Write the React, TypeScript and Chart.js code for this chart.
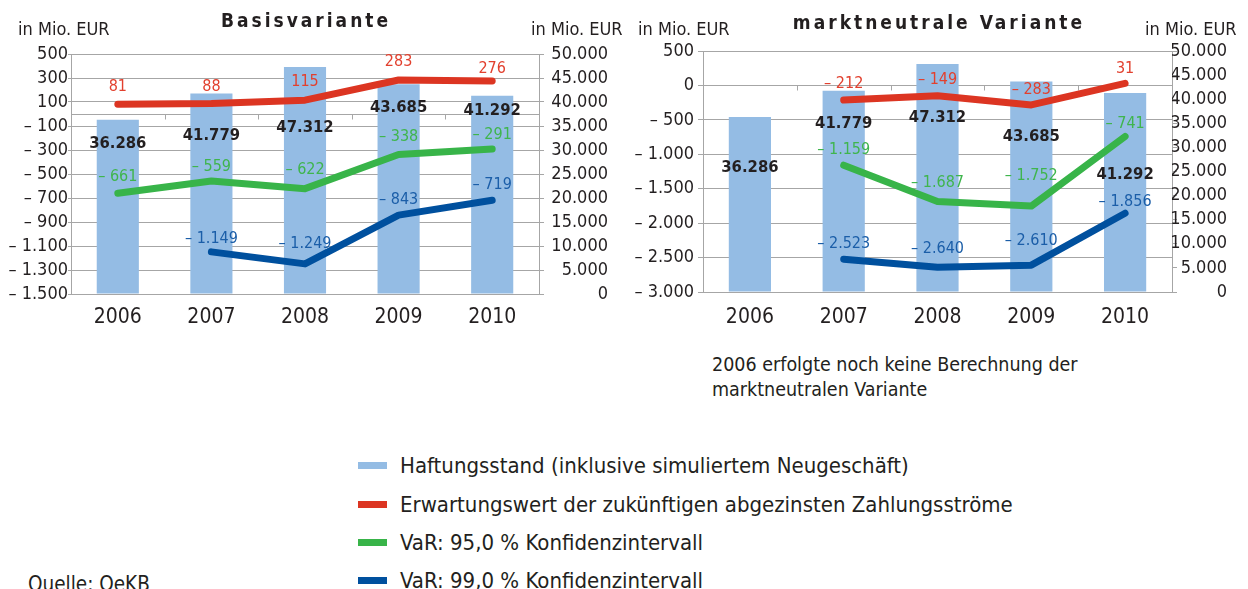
import React, { useEffect, useRef } from "react";
import { Chart, registerables } from "chart.js";

Chart.register(...registerables);

// ---------- data ----------
const years = ["2006", "2007", "2008", "2009", "2010"];
const haftungsstand = [36286, 41779, 47312, 43685, 41292];

const basisErwartung: (number | null)[] = [81, 88, 115, 283, 276];
const basisVaR95: (number | null)[] = [-661, -559, -622, -338, -291];
const basisVaR99: (number | null)[] = [null, -1149, -1249, -843, -719];

const neutralErwartung: (number | null)[] = [null, -212, -149, -283, 31];
const neutralVaR95: (number | null)[] = [null, -1159, -1687, -1752, -741];
const neutralVaR99: (number | null)[] = [null, -2523, -2640, -2610, -1856];

const basisLeftRange = { min: -1500, max: 500, step: 200 };
const neutralLeftRange = { min: -3000, max: 500, step: 500 };
const rightRange = { min: 0, max: 50000, step: 5000 };

const legendLabels = [
  "Haftungsstand (inklusive simuliertem Neugeschäft)",
  "Erwartungswert der zukünftigen abgezinsten Zahlungsströme",
  "VaR: 95,0 % Konfidenzintervall",
  "VaR: 99,0 % Konfidenzintervall",
];

// ---------- styles ----------
const FONT = '"DejaVu Sans Condensed", "DejaVu Sans", sans-serif';
const GRID = "#a6a6a6";
const TEXT = "#231f20";
const BAR = "#94bce4";
const RED = "#dc3522";
const GREEN = "#38b449";
const BLUE = "#00509e";
const RED_T = "#e2402e";
const GREEN_T = "#3fb54d";
const BLUE_T = "#1b5ea8";
const seriesColors = [BAR, RED, GREEN, BLUE];

// label lift above points (px), per series
const basisLift = [
  [17, 17, 18, 18, 12],
  [16, 14, 19, 18, 14],
  [0, 13, 20, 15, 15],
];
const neutralLift = [
  [0, 16, 16, 15, 14],
  [0, 15, 19, 30, 13],
  [0, 15, 18, 24, 11],
];
// bar value label drop below bar top (px)
const basisBarDrop = [24, 42, 61, 23, 15];
const neutralBarDrop = [51, 33, 54, 55, 82];

function fmt(v: number): string {
  const s = Math.round(Math.abs(v))
    .toString()
    .replace(/\B(?=(\d{3})+(?!\d))/g, ".");
  return (v < 0 ? "– " : "") + s;
}

type PanelProps = {
  x: number;
  width: number;
  height: number;
  plotLeft: number;
  plotRight: number;
  plotTop: number;
  plotBottom: number;
  rightLabelEdge: number;
  leftRange: { min: number; max: number; step: number };
  lines: (number | null)[][];
  lifts: number[][];
  barDrop: number[];
  leftTickPad: number;
  leftTickLen: number;
  rightTickLen: number;
  xPad: number;
};

function Panel(p: PanelProps) {
  const ref = useRef<HTMLCanvasElement | null>(null);
  useEffect(() => {
    if (!ref.current) return;
    const lineColors = [RED, GREEN, BLUE];
    const labelColors = [RED_T, GREEN_T, BLUE_T];

    const zeroLine = {
      id: "zeroLine",
      beforeDatasetsDraw(chart: any) {
        const { ctx, chartArea } = chart;
        const y0 = Math.round(chart.scales.y.getPixelForValue(0)) + 0.5;
        ctx.save();
        ctx.strokeStyle = GRID;
        ctx.lineWidth = 1;
        ctx.beginPath();
        ctx.moveTo(chartArea.left, y0);
        ctx.lineTo(chartArea.right, y0);
        const w = (chartArea.right - chartArea.left) / years.length;
        for (let k = 1; k < years.length; k++) {
          const xx = Math.round(chartArea.left + k * w) + 0.5;
          ctx.moveTo(xx, y0);
          ctx.lineTo(xx, y0 + 5);
        }
        ctx.stroke();
        ctx.restore();
      },
    };

    const labels = {
      id: "valueLabels",
      afterDatasetsDraw(chart: any) {
        const ctx = chart.ctx;
        ctx.save();
        ctx.textAlign = "center";
        ctx.textBaseline = "middle";
        const barMeta = chart.getDatasetMeta(0);
        ctx.font = `bold 16.5px ${FONT}`;
        ctx.fillStyle = TEXT;
        barMeta.data.forEach((el: any, i: number) => {
          ctx.fillText(fmt(haftungsstand[i]), el.x, el.y + p.barDrop[i]);
        });
        ctx.font = `16px ${FONT}`;
        for (let s = 0; s < 3; s++) {
          const meta = chart.getDatasetMeta(s + 1);
          ctx.fillStyle = labelColors[s];
          meta.data.forEach((el: any, i: number) => {
            const v = p.lines[s][i];
            if (v === null || v === undefined) return;
            ctx.fillText(fmt(v), el.x, el.y - p.lifts[s][i]);
          });
        }
        ctx.restore();
      },
    };

    const padRight = p.width - p.rightLabelEdge;
    const chart = new Chart(ref.current, {
      type: "bar",
      data: {
        labels: years,
        datasets: [
          {
            type: "bar",
            data: haftungsstand,
            backgroundColor: BAR,
            yAxisID: "y2",
            order: 10,
            categoryPercentage: 1,
            barPercentage: 0.45,
          } as any,
          ...p.lines.map((d, s) => ({
            type: "line",
            data: d,
            yAxisID: "y",
            borderColor: lineColors[s],
            borderWidth: 7,
            borderCapStyle: "round",
            borderJoinStyle: "round",
            pointRadius: 0,
            tension: 0,
            spanGaps: false,
            order: 1,
          })),
        ],
      },
      options: {
        responsive: false,
        animation: false,
        devicePixelRatio: 1,
        layout: { padding: { top: p.plotTop, left: 0, right: padRight, bottom: 0 } },
        plugins: {
          legend: { display: false },
          tooltip: { enabled: false },
          title: { display: false },
        },
        scales: {
          x: {
            type: "category",
            grid: { display: false },
            border: { display: false },
            ticks: {
              font: { family: FONT, size: 21 },
              color: TEXT,
              padding: p.xPad,
              maxRotation: 0,
              autoSkip: false,
            },
            afterFit: (s: any) => {
              s.height = p.height - p.plotBottom;
            },
          },
          y: {
            position: "left",
            min: p.leftRange.min,
            max: p.leftRange.max,
            ticks: {
              stepSize: p.leftRange.step,
              callback: (v: any) => fmt(Number(v)),
              font: { family: FONT, size: 18 },
              color: TEXT,
              padding: p.leftTickPad,
              autoSkip: false,
            },
            grid: { color: GRID, tickLength: p.leftTickLen, lineWidth: 1 },
            border: { color: GRID },
            afterFit: (s: any) => {
              s.width = p.plotLeft;
            },
          },
          y2: {
            position: "right",
            min: rightRange.min,
            max: rightRange.max,
            ticks: {
              stepSize: rightRange.step,
              callback: (v: any) => fmt(Number(v)),
              font: { family: FONT, size: 18 },
              color: TEXT,
              padding: 2,
              crossAlign: "far",
              autoSkip: false,
            },
            grid: {
              drawOnChartArea: false,
              color: GRID,
              tickLength: p.rightTickLen,
            },
            border: { color: GRID },
            afterFit: (s: any) => {
              s.width = p.rightLabelEdge - p.plotRight;
            },
          },
        },
      } as any,
      plugins: [zeroLine, labels],
    });
    return () => chart.destroy();
  }, []);
  return (
    <canvas
      ref={ref}
      width={p.width}
      height={p.height}
      style={{ position: "absolute", left: p.x, top: 0, width: p.width, height: p.height }}
    />
  );
}

function Txt(props: {
  x: number;
  cy: number;
  size: number;
  text: string;
  bold?: boolean;
  center?: boolean;
  spacing?: number;
}) {
  const lh = Math.round(props.size * 1.3);
  return (
    <div
      style={{
        position: "absolute",
        left: props.center ? props.x - 250 : props.x,
        width: props.center ? 500 : undefined,
        textAlign: props.center ? "center" : "left",
        top: props.cy - lh / 2,
        lineHeight: lh + "px",
        fontSize: props.size,
        fontWeight: props.bold ? "bold" : "normal",
        letterSpacing: props.spacing ? props.spacing + "px" : undefined,
        whiteSpace: "nowrap",
        color: TEXT,
      }}
    >
      {props.text}
    </div>
  );
}

export default function App() {
  return (
    <div
      style={{
        position: "absolute",
        left: 0,
        top: 0,
        width: 1248,
        height: 589,
        overflow: "hidden",
        background: "#fff",
        fontFamily: FONT,
      }}
    >
      <Panel
        x={0}
        width={624}
        height={340}
        plotLeft={71}
        plotRight={539}
        plotTop={54}
        plotBottom={294}
        rightLabelEdge={608}
        leftRange={basisLeftRange}
        lines={[basisErwartung, basisVaR95, basisVaR99]}
        lifts={basisLift}
        barDrop={basisBarDrop}
        leftTickPad={0}
        leftTickLen={3}
        rightTickLen={5}
        xPad={3}
      />
      <Panel
        x={624}
        width={624}
        height={340}
        plotLeft={79}
        plotRight={548}
        plotTop={51}
        plotBottom={292}
        rightLabelEdge={603}
        leftRange={neutralLeftRange}
        lines={[neutralErwartung, neutralVaR95, neutralVaR99]}
        lifts={neutralLift}
        barDrop={neutralBarDrop}
        leftTickPad={4}
        leftTickLen={5}
        rightTickLen={5}
        xPad={5}
      />
      <Txt x={306} cy={20} size={19} text="Basisvariante" bold center spacing={3} />
      <Txt x={939} cy={22} size={19} text="marktneutrale Variante" bold center spacing={3} />
      <Txt x={18} cy={28} size={18} text="in Mio. EUR" />
      <Txt x={531} cy={28} size={18} text="in Mio. EUR" />
      <Txt x={638} cy={28} size={18} text="in Mio. EUR" />
      <Txt x={1145} cy={28} size={18} text="in Mio. EUR" />
      <Txt x={712} cy={364} size={19.5} text="2006 erfolgte noch keine Berechnung der" />
      <Txt x={712} cy={389} size={19.5} text="marktneutralen Variante" />
      <Txt x={28} cy={584} size={20.5} text="Quelle: OeKB" />
      {legendLabels.map((t, i) => {
        const cy = [465, 504, 542, 580][i];
        return (
          <React.Fragment key={t}>
            <div
              style={{
                position: "absolute",
                left: 358,
                top: cy - 3.5,
                width: 29,
                height: 7,
                background: seriesColors[i],
              }}
            />
            <Txt x={400} cy={cy} size={22} text={t} />
          </React.Fragment>
        );
      })}
    </div>
  );
}
